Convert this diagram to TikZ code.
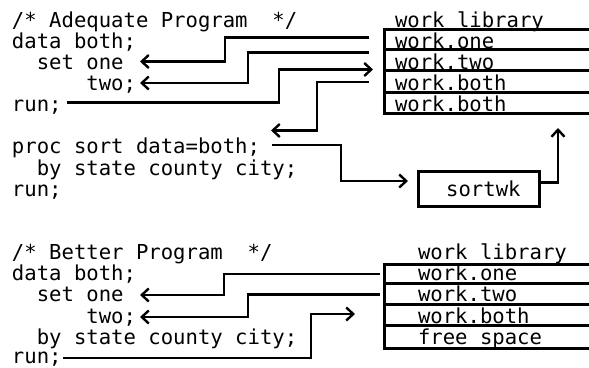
\documentclass[tikz,border=0pt]{standalone}
\usepackage{fontspec}
\setmonofont{DejaVu Sans Mono}
\usetikzlibrary{arrows.meta}
\tikzset{
  code/.style={font=\ttfamily\fontsize{20.6}{21}\selectfont, anchor=base west, inner sep=0pt, outer sep=0pt},
  conn/.style={line width=2.6pt, line join=miter},
  arr/.style={conn, -{Straight Barb[length=7pt,width=13pt,line width=2.4pt]}},
  rowbox/.style={draw, line width=3pt, anchor=north west, minimum width=240pt, inner sep=0pt, outer sep=0pt},
  sortbox/.style={draw, line width=2.7pt, anchor=north west, minimum width=121pt, minimum height=35pt, inner sep=0pt,
    font=\ttfamily\fontsize{20.6}{21}\selectfont},
}
\begin{document}
\begin{tikzpicture}[x=1pt,y=-1pt]
\useasboundingbox (0,0) rectangle (589,367);
\clip (0,0) rectangle (589,367);

% ---------- Adequate program ----------
\node[code] (a0) at (12,27)    {/* Adequate Program~~*/};
\node[code] (a1) at (12,48.15) {data both;};
\node[code] (a2) at (12,69.3)  {~~set one};
\node[code] (a3) at (12,90.45) {~~~~~~two;};
\node[code] (a4) at (12,111.6) {run;};
\node[code] (a6) at (12,153.9) {proc sort data=both;};
\node[code] (a7) at (12,175.05){~~by state county city;};
\node[code] (a8) at (12,196.2) {run;};

\node[code] (alib) at (395,27) {work library};
\node[rowbox, minimum height=20.5pt] (ar1) at (384,29)   {};
\node[rowbox, minimum height=21pt]   (ar2) at (384,49.5) {};
\node[rowbox, minimum height=22pt]   (ar3) at (384,70.5) {};
\node[rowbox, minimum height=20.5pt] (ar4) at (384,92.5) {};
\node[code] (at1) at (395,48.15) {work.one};
\node[code] (at2) at (395,69.3)  {work.two};
\node[code] (at3) at (395,90.45) {work.both};
\node[code] (at4) at (395,111.6) {work.both};

\node[sortbox] (sortwk) at (417,170) {\hspace{9pt}sortwk};

\coordinate (p1s) at (369,37.5);   \coordinate (p1e) at (140,61.5);
\coordinate (p2s) at (369,52.5);   \coordinate (p2e) at (140,83);
\coordinate (p3s) at (67,102.5);   \coordinate (p3e) at (373,69.5);
\coordinate (p4s) at (369,82);     \coordinate (p4e) at (271,130.5);
\coordinate (p5s) at (272,145);    \coordinate (p5e) at (408,181);
\coordinate (p6s) at (538,182.5);  \coordinate (p6e) at (558,128);

\draw[arr] (p1s) -- (225,37.5) -- (225,61.5) -- (p1e);
\draw[arr] (p2s) -- (248,52.5) -- (248,83) -- (p2e);
\draw[arr] (p3s) -- (279,102.5) -- (279,69.5) -- (p3e);
\draw[arr] (p4s) -- (317,82) -- (317,130.5) -- (p4e);
\draw[arr] (p5s) -- (341,145) -- (341,181) -- (p5e);
\draw[arr] (p6s) -- (558,182.5) -- (p6e);

% ---------- Better program ----------
\node[code] (b0) at (12,259.65) {/* Better Program~~*/};
\node[code] (b1) at (12,280.8)  {data both;};
\node[code] (b2) at (12,301.95) {~~set one};
\node[code] (b3) at (12,323.1)  {~~~~~~two;};
\node[code] (b4) at (12,344.25) {~~by state county city;};
\node[code] (b5) at (12,363.3)  {run;};

\node[code] (blib) at (418,259.65) {work library};
\node[rowbox, minimum height=19.3pt] (br1) at (384,264)   {};
\node[rowbox, minimum height=21pt]   (br2) at (384,283.3) {};
\node[rowbox, minimum height=21.4pt] (br3) at (384,304.3) {};
\node[rowbox, minimum height=22.3pt] (br4) at (384,325.7) {};
\node[code] (bt1) at (418,280.8)  {work.one};
\node[code] (bt2) at (418,301.95) {work.two};
\node[code] (bt3) at (418,323.1)  {work.both};
\node[code] (bt4) at (418,344.25) {free space};

\coordinate (q1s) at (380,274);    \coordinate (q1e) at (140,295);
\coordinate (q2s) at (380,294.5);  \coordinate (q2e) at (140,317);
\coordinate (q3s) at (63,358);     \coordinate (q3e) at (355,314);

\draw[arr] (q1s) -- (224,274) -- (224,295) -- (q1e);
\draw[arr] (q2s) -- (248,294.5) -- (248,317) -- (q2e);
\draw[arr] (q3s) -- (311,358) -- (311,314) -- (q3e);
\end{tikzpicture}
\end{document}
